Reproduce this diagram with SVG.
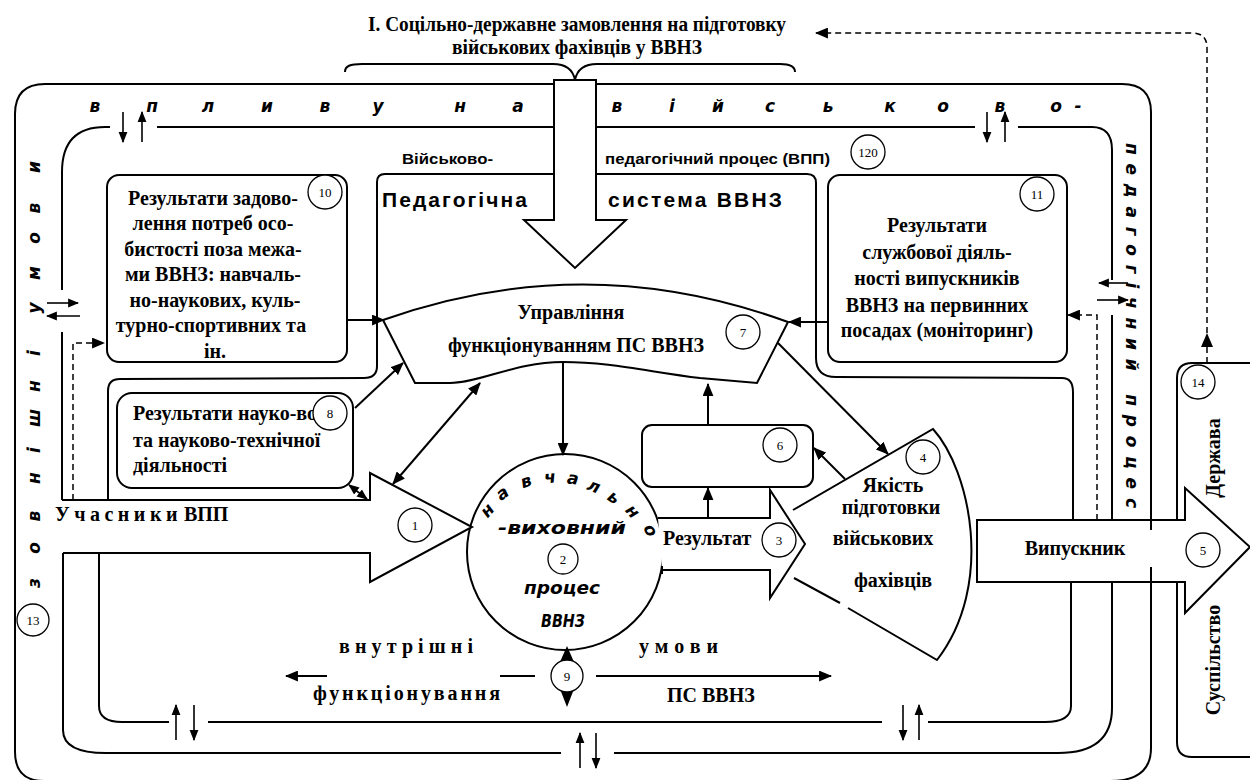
<svg xmlns="http://www.w3.org/2000/svg" width="1250" height="780" viewBox="0 0 1250 780">
<defs>
<marker id="ah" viewBox="0 0 12 10" refX="11" refY="5" markerWidth="13" markerHeight="11" markerUnits="userSpaceOnUse" orient="auto-start-reverse"><path d="M0,0 L12,5 L0,10 Z" fill="#000"/></marker>
<marker id="as" viewBox="0 0 10 8" refX="9" refY="4" markerWidth="11" markerHeight="10" markerUnits="userSpaceOnUse" orient="auto-start-reverse"><path d="M0,0 L10,4 L0,8 Z" fill="#000"/></marker>
</defs>
<style>
.ln{fill:none;stroke:#000;stroke-width:2}
.wf{fill:#fff;stroke:#000;stroke-width:2}
.ds{fill:none;stroke:#000;stroke-width:1.5;stroke-dasharray:6 4}
.ar{fill:none;stroke:#000;stroke-width:2;marker-end:url(#ah)}
.ar2{fill:none;stroke:#000;stroke-width:2;marker-end:url(#ah);marker-start:url(#ah)}
.sa{fill:none;stroke:#000;stroke-width:1.6;marker-end:url(#as)}
.num{fill:#fff;stroke:#000;stroke-width:1.3}
.nt{font-family:"Liberation Serif","Times New Roman",serif;font-size:13px;text-anchor:middle}
.bt{font-family:"Liberation Serif","Times New Roman",serif;font-weight:bold;font-size:20px}
.c{text-anchor:middle}
.it{font-family:"DejaVu Sans",sans-serif;font-weight:bold;font-style:italic;font-size:17px;text-anchor:middle}
.hs{font-family:"Liberation Sans",Arial,sans-serif;font-weight:bold}
</style>
<rect width="1250" height="780" fill="#fff"/>

<g id="title">
<text class="bt c" x="577" y="31" font-size="17" textLength="418" lengthAdjust="spacingAndGlyphs">І. Соцільно-державне замовлення на підготовку</text>
<text class="bt c" x="577" y="54" font-size="17" textLength="250" lengthAdjust="spacingAndGlyphs">військових фахівців у ВВНЗ</text>
<path class="ln" stroke-width="1.6" d="M345,72 C345,66 350,64 362,64 L553,64 C567,64 573,70 575,80 C577,70 583,64 597,64 L780,64 C790,64 795,66 795,72"/>
</g>

<g id="frames" class="ln">
<path d="M554,84 L45,84 Q15,84 15,114 L15,752 Q15,781 44,781 L1110,781 Q1151,781 1151,748 L1151,112 Q1151,84 1122,84 L596,84"/>
<path d="M62,290 L62,172 Q62,127 105,127 L110,127"/>
<path d="M157,127 L975,127"/>
<path d="M1018,127 L1092,127 Q1112,127 1112,150 L1112,280"/>
<path d="M1112,315 L1112,708 Q1112,753 1058,753 L614,753"/>
<path d="M561,753 L106,753 Q63,753 63,730 L63,553"/>
<path d="M62,332 L62,500"/>
<path d="M554,174 L385,174 Q377,174 377,182 L377,366 Q377,378 364,378 L120,379 Q108,379 108,391 L108,500"/>
<path d="M596,174 L807,174 Q816,174 816,183 L816,358 Q816,377 836,377 L1062,378 Q1073,378 1073,392 L1073,520"/>
<path d="M1071,582 L1071,706 Q1071,722 1045,722 L928,722"/>
<path d="M882,722 L208,722"/>
<path d="M169,722 L122,722 Q99,722 99,706 L99,553"/>
</g>

<g id="outer-label">
<text class="it" x="95" y="112">в</text><text class="it" x="152" y="112">п</text><text class="it" x="208" y="112">л</text><text class="it" x="267" y="112">и</text><text class="it" x="325" y="112">в</text><text class="it" x="378" y="112">у</text><text class="it" x="460" y="112">н</text><text class="it" x="518" y="112">а</text><text class="it" x="617" y="112">в</text><text class="it" x="672" y="112">і</text><text class="it" x="718" y="112">й</text><text class="it" x="770" y="112">с</text><text class="it" x="828" y="112">ь</text><text class="it" x="890" y="112">к</text><text class="it" x="943" y="112">о</text><text class="it" x="1000" y="112">в</text><text class="it" x="1056" y="112">о</text><text class="it" x="1078" y="112">-</text>
<text class="it" font-size="18" transform="translate(40,583) rotate(-90)">з</text>
<text class="it" font-size="18" transform="translate(40,548) rotate(-90)">о</text>
<text class="it" font-size="18" transform="translate(40,516) rotate(-90)">в</text>
<text class="it" font-size="18" transform="translate(40,478) rotate(-90)">н</text>
<text class="it" font-size="18" transform="translate(40,450) rotate(-90)">і</text>
<text class="it" font-size="18" transform="translate(40,418) rotate(-90)">ш</text>
<text class="it" font-size="18" transform="translate(40,386) rotate(-90)">н</text>
<text class="it" font-size="18" transform="translate(40,353) rotate(-90)">і</text>
<text class="it" font-size="18" transform="translate(40,308) rotate(-90)">у</text>
<text class="it" font-size="18" transform="translate(40,273) rotate(-90)">м</text>
<text class="it" font-size="18" transform="translate(40,238) rotate(-90)">о</text>
<text class="it" font-size="18" transform="translate(40,208) rotate(-90)">в</text>
<text class="it" font-size="18" transform="translate(40,167) rotate(-90)">и</text>
<text class="it" font-size="18" style="text-anchor:start" transform="translate(1126,143) rotate(90)" textLength="365" lengthAdjust="spacing">педагогічний процес</text>
<text class="hs" x="402" y="164" font-size="15" textLength="91" lengthAdjust="spacingAndGlyphs">Військово-</text>
<text class="hs" x="605" y="164" font-size="15" textLength="225" lengthAdjust="spacingAndGlyphs">педагогічний процес (ВПП)</text>
</g>

<g id="node-10">
<rect class="wf" x="107" y="175" width="240" height="187" rx="12"/>
<text class="bt c" x="213" y="205" font-size="21.5">Результати задово-</text>
<text class="bt c" x="213" y="230" font-size="21.5">лення потреб осо-</text>
<text class="bt c" x="213" y="256" font-size="21.5">бистості поза межа-</text>
<text class="bt c" x="213" y="281" font-size="21.5">ми ВВНЗ: навчаль-</text>
<text class="bt c" x="215" y="307" font-size="21.5">но-наукових, куль-</text>
<text class="bt c" x="211" y="332" font-size="21.5">турно-спортивних та</text>
<text class="bt c" x="215" y="358" font-size="21.5">ін.</text>
</g>

<g id="node-11">
<rect class="wf" x="828" y="175" width="239" height="187" rx="12"/>
<text class="bt c" x="937" y="232">Результати</text>
<text class="bt c" x="937" y="259">службової діяль-</text>
<text class="bt c" x="937" y="285">ності випускників</text>
<text class="bt c" x="937" y="312">ВВНЗ на первинних</text>
<text class="bt c" x="937" y="337">посадах (моніторинг)</text>
</g>

<g id="node-8">
<rect class="wf" x="117" y="393" width="236" height="95" rx="15"/>
<text class="bt" x="133" y="420">Результати науко-во</text>
<text class="bt" x="133" y="447">та науково-технічної</text>
<text class="bt" x="133" y="472">діяльності</text>
</g>

<g id="node-ps">
<text class="hs" x="382" y="207" font-size="21" textLength="145" lengthAdjust="spacing">Педагогічна</text>
<text class="hs" x="608" y="207" font-size="21" textLength="174" lengthAdjust="spacing">система ВВНЗ</text>
</g>

<g id="node-order">
<path class="wf" d="M554,80 L596,80 L596,220 L626,220 L575,268 L524,220 L554,220 Z"/>
</g>

<g id="node-7">
<path class="wf" d="M383,320 Q585,248 788,322 L757,383 L700,378 C650,372 610,362 563,362 C515,362 480,383 450,383 L415,383 Z"/>
<text class="bt c" x="571" y="319">Управління</text>
<text class="bt c" x="576" y="352">функціонуванням ПС ВВНЗ</text>
</g>

<g id="node-2">
<circle class="wf" cx="565" cy="552" r="98"/>
<text class="it" y="6" transform="translate(487,510) rotate(-48)">н</text>
<text class="it" y="6" transform="translate(502,493) rotate(-36)">а</text>
<text class="it" y="6" transform="translate(526,481) rotate(-19)">в</text>
<text class="it" y="6" transform="translate(550,477) rotate(-6)">ч</text>
<text class="it" y="6" transform="translate(573,478) rotate(8)">а</text>
<text class="it" y="6" transform="translate(594,486) rotate(21)">л</text>
<text class="it" y="6" transform="translate(614,497) rotate(34)">ь</text>
<text class="it" y="6" transform="translate(633,511) rotate(48)">н</text>
<text class="it" y="6" transform="translate(651,530) rotate(64)">о</text>
<text class="it" x="562" y="534" font-size="18" textLength="128" lengthAdjust="spacingAndGlyphs">-виховний</text>
<text class="it" x="562" y="594" font-size="18" textLength="76" lengthAdjust="spacingAndGlyphs">процес</text>
<text class="it" x="563" y="627" font-size="18" textLength="44" lengthAdjust="spacingAndGlyphs">ВВНЗ</text>
</g>

<g id="node-1">
<path class="wf" d="M62,500 L370,500 L370,473 L472,527 L370,582 L370,553 L63,553"/>
<text class="bt" x="55" y="521" font-size="18"><tspan letter-spacing="4.5">Учасники</tspan><tspan letter-spacing="0" dx="2">ВПП</tspan></text>
</g>

<g id="node-4">
<path fill="#fff" d="M793,510 L933,429 C970,470 995,585 937,660 L794,578 Z"/>
<path class="ln" d="M793,510 L933,429 C970,470 995,585 937,660 L848,608 M840,603 L794,578"/>
<text class="bt c" x="893" y="492">Якість</text>
<text class="bt c" x="891" y="514">підготовки</text>
<text class="bt c" x="883" y="545">військових</text>
<text class="bt c" x="893" y="587">фахівців</text>
</g>

<g id="node-3">
<path class="wf" d="M658,518 L770,518 L770,490 L805,544 L770,598 L770,570 L662,570"/>
<path class="ln" d="M662,566 L662,574"/>
<text class="bt" x="663" y="545">Результат</text>
</g>

<g id="node-6">
<rect class="wf" x="642" y="425" width="171" height="62" rx="10"/>
</g>

<g id="node-14">
<path class="ln" d="M1250,363 L1192,363 Q1177,363 1177,378 L1177,742 Q1177,757 1192,757 L1250,757"/>
<text class="bt c" transform="translate(1220,458) rotate(-90)">Держава</text>
<text class="bt c" transform="translate(1220,660) rotate(-90)">Суспільство</text>
</g>

<g id="node-5">
<path class="wf" d="M977,520 L1185,520 L1185,488 L1250,547 L1185,613 L1185,582 L977,582 Z"/>
<path class="ln" d="M1151,520 L1151,530 M1151,567 L1151,582"/>
<text class="bt c" x="1075" y="555">Випускник</text>
</g>

<g id="connectors">
<path class="ar" d="M347,320 L384,320"/>
<path class="ar" d="M828,322 L789,322"/>
<path class="ar" d="M355,408 L403,363"/>
<path class="ar2" d="M480,383 L393,484"/>
<path class="ar" d="M563,362 L563,455"/>
<path class="ar" d="M708,425 L708,384"/>
<path class="ar" d="M708,518 L708,488"/>
<path class="ar" d="M845,479 L814,448"/>
<path class="ar" d="M778,343 L888,454"/>
<path fill="none" stroke="#000" stroke-width="1.6" marker-start="url(#as)" marker-end="url(#as)" d="M349,485 L367,499"/>
<path class="ln" d="M535,676 L500,676"/>
<path class="ar" d="M327,676 L286,676"/>
<path class="ar" d="M596,676 L831,676"/>
<path d="M560,662 L567,646 L574,662 Z M560,689 L567,707 L574,689 Z"/>
<path class="sa" d="M123,112 L123,142"/><path class="sa" d="M142,142 L142,112"/>
<path class="sa" d="M987,112 L987,142"/><path class="sa" d="M1005,142 L1005,112"/>
<path class="sa" d="M47,303 L78,303"/><path class="sa" d="M80,316 L47,316"/>
<path class="sa" d="M1128,283 L1099,283"/><path class="sa" d="M1097,300 L1128,300"/>
<path class="sa" d="M176,740 L176,705"/><path class="sa" d="M194,705 L194,740"/>
<path class="sa" d="M903,705 L903,740"/><path class="sa" d="M919,740 L919,705"/>
<path class="sa" d="M580,768 L580,733"/><path class="sa" d="M596,733 L596,768"/>
<path class="ds" marker-end="url(#ah)" d="M73,500 L73,343 L104,343"/>
<path class="ds" marker-end="url(#ah)" d="M1097,520 L1097,315 L1068,315"/>
<path class="ds" marker-end="url(#ah)" d="M1207,363 L1207,48 Q1207,33 1192,33 L816,33"/>
<path d="M1201,347 L1207,333 L1213,347 Z"/>
<text class="bt" x="339" y="653" font-size="15" textLength="134" lengthAdjust="spacing">внутрішні</text>
<text class="bt" x="639" y="653" font-size="15" textLength="79" lengthAdjust="spacing">умови</text>
<text class="bt" x="313" y="700" font-size="15" textLength="187" lengthAdjust="spacing">функціонування</text>
<text class="bt" x="667" y="702" font-size="19">ПС ВВНЗ</text>
</g>

<g id="numbers">
<circle class="num" cx="325" cy="192" r="17"/><text class="nt" x="325" y="196.5">10</text>
<circle class="num" cx="1037" cy="194" r="17"/><text class="nt" x="1037" y="198.5">11</text>
<circle class="num" cx="868" cy="152" r="17"/><text class="nt" x="868" y="156.5">120</text>
<circle class="num" cx="743" cy="332" r="17"/><text class="nt" x="743" y="336.5">7</text>
<circle class="num" cx="330" cy="413" r="17"/><text class="nt" x="330" y="417.5">8</text>
<circle class="num" cx="415" cy="525" r="17"/><text class="nt" x="415" y="529.5">1</text>
<circle class="num" cx="563" cy="559" r="15"/><text class="nt" x="563" y="563.5">2</text>
<circle class="num" cx="779" cy="540" r="17"/><text class="nt" x="779" y="544.5">3</text>
<circle class="num" cx="923" cy="457" r="17"/><text class="nt" x="923" y="461.5">4</text>
<circle class="num" cx="1203" cy="550" r="17"/><text class="nt" x="1203" y="554.5">5</text>
<circle class="num" cx="780" cy="445" r="17"/><text class="nt" x="780" y="449.5">6</text>
<circle class="num" cx="567" cy="676" r="16"/><text class="nt" x="567" y="680.5">9</text>
<circle class="num" cx="33" cy="620" r="16"/><text class="nt" x="33" y="624.5">13</text>
<circle class="num" cx="1198" cy="382" r="17"/><text class="nt" x="1198" y="386.5">14</text>
</g>
</svg>
